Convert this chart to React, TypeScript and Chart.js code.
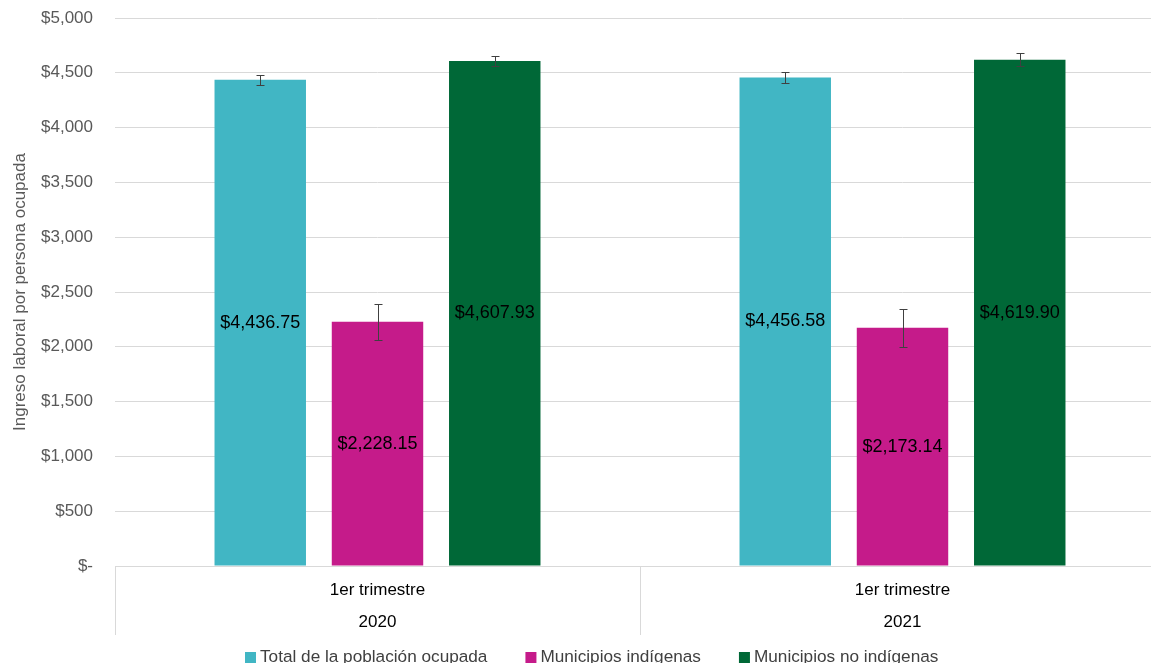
import React, { useEffect, useRef } from "react";
import { Chart, registerables } from "chart.js";

Chart.register(...registerables);

const categories = ["2020", "2021"];
const quarterLabel = "1er trimestre";
const seriesNames = ["Total de la población ocupada", "Municipios indígenas", "Municipios no indígenas"];
const totalValues = [4436.75, 4456.58];
const indigenousValues = [2228.15, 2173.14];
const nonIndigenousValues = [4607.93, 4619.9];
const totalErrors = [45, 52];
const indigenousErrors = [163, 172];
const nonIndigenousErrors = [48, 62];
const seriesColors = ["#41b6c4", "#c51b8a", "#006837"];
const yTitle = "Ingreso laboral por persona ocupada";

const FONT = "'Liberation Sans', Arial, sans-serif";

const fmtMoney = (v: number) =>
  "$" + v.toLocaleString("en-US", { minimumFractionDigits: 2, maximumFractionDigits: 2 });

export default function App() {
  const ref = useRef<HTMLCanvasElement | null>(null);

  useEffect(() => {
    if (!ref.current) return;
    document.body.style.overflow = "hidden";
    const errors = [totalErrors, indigenousErrors, nonIndigenousErrors];

    const overlay = {
      id: "overlay",
      afterDatasetsDraw(chart: any) {
        const ctx = chart.ctx;
        const y = chart.scales.y;
        chart.data.datasets.forEach((ds: any, di: number) => {
          const meta = chart.getDatasetMeta(di);
          meta.data.forEach((bar: any, i: number) => {
            const v = ds.data[i];
            const e = errors[di][i];
            const top = Math.round(y.getPixelForValue(v + e)) + 0.5;
            const bot = Math.round(y.getPixelForValue(v - e)) + 0.5;
            const bx = Math.round(bar.x) + 0.5;
            ctx.save();
            ctx.strokeStyle = "#404040";
            ctx.lineWidth = 1;
            ctx.beginPath();
            ctx.moveTo(bx, top);
            ctx.lineTo(bx, bot);
            ctx.moveTo(bx - 4, top);
            ctx.lineTo(bx + 4, top);
            ctx.moveTo(bx - 4, bot);
            ctx.lineTo(bx + 4, bot);
            ctx.stroke();
            ctx.restore();
          });
        });
        chart.data.datasets.forEach((ds: any, di: number) => {
          const meta = chart.getDatasetMeta(di);
          meta.data.forEach((bar: any, i: number) => {
            ctx.save();
            ctx.font = `18px ${FONT}`;
            ctx.fillStyle = "#000000";
            ctx.textAlign = "center";
            ctx.textBaseline = "middle";
            ctx.fillText(fmtMoney(ds.data[i]), bar.x, (bar.y + bar.base) / 2);
            ctx.restore();
          });
        });
      },
      afterDraw(chart: any) {
        const ctx = chart.ctx;
        const x = chart.scales.x;
        ctx.save();
        ctx.font = `17px ${FONT}`;
        ctx.fillStyle = "#000000";
        ctx.textAlign = "center";
        ctx.textBaseline = "middle";
        categories.forEach((c, i) => {
          const px = x.getPixelForValue(i);
          ctx.fillText(quarterLabel, px, 590);
          ctx.fillText(c, px, 622);
        });
        ctx.font = `17.2px ${FONT}`;
        ctx.textAlign = "left";
        let lx = 245;
        const ly = 657;
        seriesNames.forEach((n, i) => {
          ctx.fillStyle = seriesColors[i];
          ctx.fillRect(lx, ly - 5, 11, 11);
          ctx.fillStyle = "#404040";
          ctx.fillText(n, lx + 15, ly);
          lx += 15 + ctx.measureText(n).width + 38;
        });
        ctx.restore();
      },
    };

    const chart = new Chart(ref.current, {
      type: "bar",
      data: {
        labels: categories,
        datasets: [
          { label: seriesNames[0], data: totalValues, backgroundColor: seriesColors[0] },
          { label: seriesNames[1], data: indigenousValues, backgroundColor: seriesColors[1] },
          { label: seriesNames[2], data: nonIndigenousValues, backgroundColor: seriesColors[2] },
        ],
      },
      options: {
        responsive: false,
        animation: false,
        devicePixelRatio: 1,
        layout: { padding: { top: 18, bottom: 28, left: 0, right: 0 } },
        plugins: { legend: { display: false }, tooltip: { enabled: false } },
        datasets: { bar: { categoryPercentage: 0.67, barPercentage: 0.78 } },
        scales: {
          x: {
            grid: {
              offset: true,
              drawOnChartArea: false,
              drawTicks: true,
              tickLength: 69,
              color: "#d9d9d9",
            },
            border: { display: true, color: "#d9d9d9" },
            ticks: { display: false },
            afterFit: (s: any) => {
              s.height = 69;
              s.paddingLeft = 0;
              s.paddingRight = 0;
            },
          },
          y: {
            min: 0,
            max: 5000,
            ticks: {
              stepSize: 500,
              padding: 22,
              color: "#595959",
              font: { family: FONT, size: 17 },
              callback: (v: any) => (v === 0 ? "$-" : "$" + Number(v).toLocaleString("en-US")),
            },
            grid: { color: "#d9d9d9", drawTicks: false },
            border: { display: false },
            title: {
              display: true,
              text: yTitle,
              color: "#595959",
              font: { family: FONT, size: 17 },
              padding: { top: 10, bottom: 0 },
            },
            afterFit: (s: any) => {
              s.width = 115;
              s.paddingTop = 0;
              s.paddingBottom = 0;
            },
          },
        },
      },
      plugins: [overlay],
    });
    return () => chart.destroy();
  }, []);

  return (
    <div style={{ position: "fixed", left: 0, top: 0, width: 1151, height: 663, overflow: "hidden", background: "#fff" }}>
      <canvas ref={ref} width={1165} height={663} style={{ display: "block" }} />
    </div>
  );
}
